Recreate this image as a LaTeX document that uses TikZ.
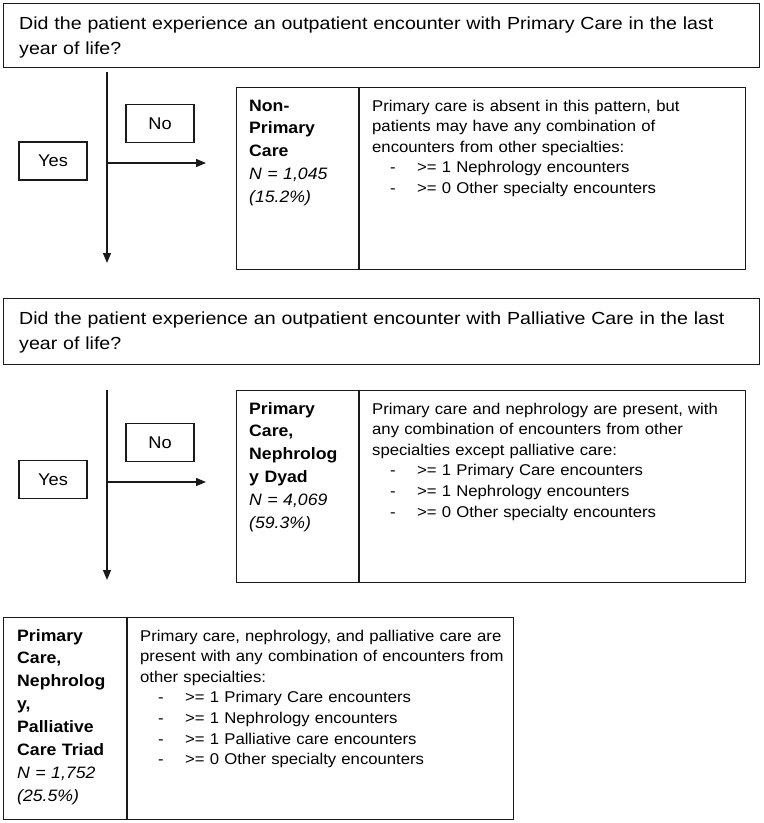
\documentclass[tikz,border=0pt]{standalone}
\usepackage{fontspec}
\setmainfont{Liberation Sans}
\newfontfamily\qfont[FakeStretch=1.12]{Liberation Sans}
\newfontfamily\dfont[FakeStretch=1.07]{Liberation Sans}
\usetikzlibrary{arrows.meta}
\definecolor{ln}{HTML}{1A1A1A}
\newcommand{\bul}{\hspace*{18pt}\makebox[27pt][l]{-}}
\tikzset{
 frame/.style={draw=ln, line width=1.4pt, inner sep=0pt, anchor=north west},
 qtext/.style={anchor=base west, inner sep=0pt, align=left, text width=745pt, font=\qfont\fontsize{17.5}{25.5}\selectfont},
 dtext/.style={anchor=base west, inner sep=0pt, align=left, text width=400pt, font=\dfont\fontsize{15.6}{20.6}\selectfont},
 ltext/.style={anchor=base west, inner sep=0pt, align=left, text width=110pt, font=\dfont\fontsize{16.5}{22.9}\selectfont},
 yn/.style={draw=ln, line width=1.4pt, minimum width=68pt, minimum height=38pt, inner sep=0pt, font=\dfont\fontsize{17}{20}\selectfont},
 flow/.style={draw=ln, line width=1.3pt, -{Triangle[length=10pt,width=8pt]}},
 divider/.style={draw=ln, line width=1.4pt}
}
\begin{document}
\begin{tikzpicture}[x=1pt,y=-1pt]
\useasboundingbox[fill=white] (0,0) rectangle (764,823);

% ---------- first question ----------
\node[frame, minimum width=756pt, minimum height=64pt] (q1) at (3,3) {};
\node[qtext] (q1t) at (19,29) {Did the patient experience an outpatient encounter with Primary Care in the last\\year of life?};

\coordinate (v1a) at (107,72);
\coordinate (v1b) at (107,263);
\coordinate (h1a) at (107,163);
\coordinate (h1b) at (206,163);
\draw[flow] (v1a) -- (v1b);
\draw[flow] (h1a) -- (h1b);

\node[yn] (yes1) at (53,161) {Yes};
\node[yn] (no1) at (160,123.5) {No};

\node[frame, minimum width=509pt, minimum height=182pt] (b1) at (236,87) {};
\draw[divider] ([xshift=123pt]b1.north west) -- ([xshift=123pt]b1.south west);
\node[ltext] (b1l) at (249,111) {\textbf{Non-}\\\textbf{Primary}\\\textbf{Care}\\\textit{N = 1,045}\\\textit{(15.2\%)}};
\node[dtext] (b1d) at (372,111) {Primary care is absent in this pattern, but\\patients may have any combination of\\encounters from other specialties:\\\bul>= 1 Nephrology encounters\\\bul>= 0 Other specialty encounters};

% ---------- second question ----------
\node[frame, minimum width=756pt, minimum height=66pt] (q2) at (3,298) {};
\node[qtext] (q2t) at (19,324) {Did the patient experience an outpatient encounter with Palliative Care in the last\\year of life?};

\coordinate (v2a) at (107,390);
\coordinate (v2b) at (107,580);
\coordinate (h2a) at (107,482);
\coordinate (h2b) at (206,482);
\draw[flow] (v2a) -- (v2b);
\draw[flow] (h2a) -- (h2b);

\node[yn] (yes2) at (53,479.5) {Yes};
\node[yn] (no2) at (160,442.5) {No};

\node[frame, minimum width=509pt, minimum height=192pt] (b2) at (236,390) {};
\draw[divider] ([xshift=123pt]b2.north west) -- ([xshift=123pt]b2.south west);
\node[ltext] (b2l) at (249,414) {\textbf{Primary}\\\textbf{Care,}\\\textbf{Nephrolog}\\\textbf{y Dyad}\\\textit{N = 4,069}\\\textit{(59.3\%)}};
\node[dtext] (b2d) at (372,414) {Primary care and nephrology are present, with\\any combination of encounters from other\\specialties except palliative care:\\\bul>= 1 Primary Care encounters\\\bul>= 1 Nephrology encounters\\\bul>= 0 Other specialty encounters};

% ---------- third pattern ----------
\node[frame, minimum width=510pt, minimum height=202pt] (b3) at (3,617) {};
\draw[divider] ([xshift=124pt]b3.north west) -- ([xshift=124pt]b3.south west);
\node[ltext] (b3l) at (17,641) {\textbf{Primary}\\\textbf{Care,}\\\textbf{Nephrolog}\\\textbf{y,}\\\textbf{Palliative}\\\textbf{Care Triad}\\\textit{N = 1,752}\\\textit{(25.5\%)}};
\node[dtext] (b3d) at (140,641) {Primary care, nephrology, and palliative care are\\present with any combination of encounters from\\other specialties:\\\bul>= 1 Primary Care encounters\\\bul>= 1 Nephrology encounters\\\bul>= 1 Palliative care encounters\\\bul>= 0 Other specialty encounters};
\end{tikzpicture}
\end{document}
